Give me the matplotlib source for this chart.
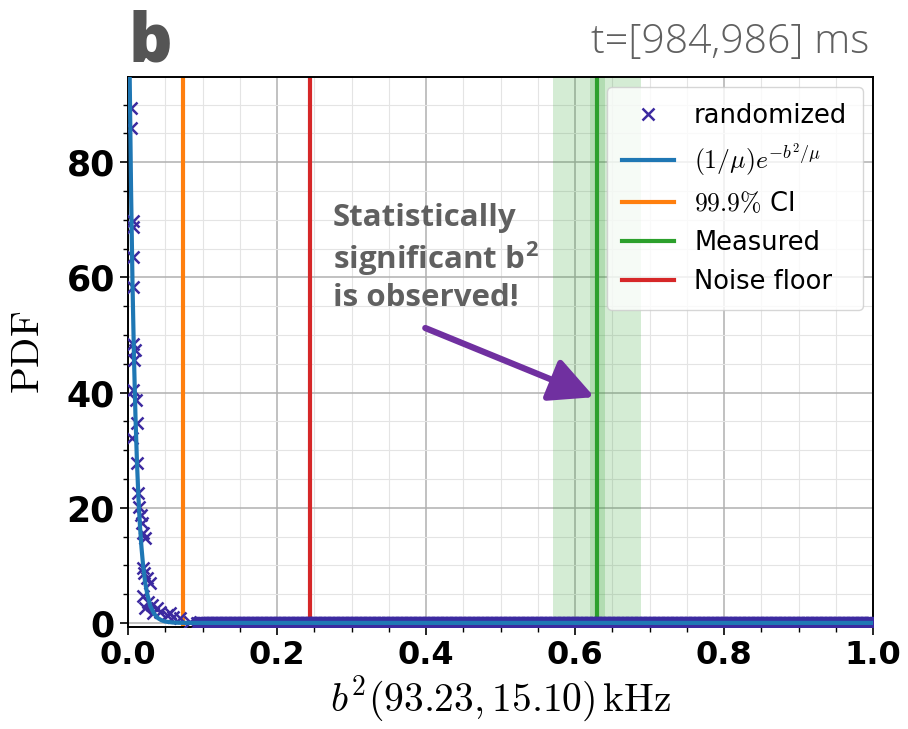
import numpy as np
import matplotlib
matplotlib.use('Agg')
import matplotlib.pyplot as plt
from matplotlib.ticker import MultipleLocator

matplotlib.rcParams['mathtext.fontset'] = 'cm'

# histogram of the randomized b^2 values
rand_b2 = [0.004, 0.0045, 0.0063, 0.0071, 0.0071, 0.0071, 0.0071, 0.0094,
           0.008, 0.0071, 0.0107, 0.0116, 0.005, 0.0125, 0.0139, 0.0152,
           0.017, 0.0183, 0.0206, 0.0228, 0.0197, 0.0215, 0.025, 0.0295,
           0.0206, 0.0273, 0.0318, 0.0385, 0.0228, 0.043, 0.034, 0.052,
           0.056, 0.061, 0.070, 0.083, 0.092]
rand_pdf = [89.4, 85.9, 69.7, 68.8, 63.6, 58.4, 48.4, 47.4,
            45.7, 40.5, 38.7, 34.7, 32.1, 27.8, 22.6, 20.1,
            18.8, 17.3, 15.6, 14.7, 9.5, 8.6, 7.8, 6.9,
            4.6, 3.7, 3.1, 2.55, 2.55, 1.96, 1.7, 1.4,
            1.7, 1.1, 0.8, 0.2, 0.0]
# empty bins of the same histogram out to b^2 = 1
tail_b2 = np.linspace(0.095, 1.0, 1200)
tail_pdf = np.zeros(len(tail_b2))

# fitted exponential, sampled from the drawn curve
fit_b2 = [0.0, 0.002, 0.004, 0.006, 0.008, 0.010, 0.012, 0.014, 0.016, 0.018,
          0.020, 0.023, 0.026, 0.030, 0.035, 0.040, 0.045, 0.050, 0.060,
          0.070, 0.085, 1.0]
fit_pdf = [125.0, 97.3, 75.8, 59.0, 46.0, 35.8, 27.9, 21.7, 16.9, 13.2,
           10.3, 7.0, 4.9, 2.9, 1.6, 0.84, 0.45, 0.24, 0.07,
           0.02, 0.0, 0.0]

ci_999 = 0.0735
noise_floor = 0.244
measured = 0.630
measured_band = (0.570, 0.688)
measured_inner = (0.620, 0.640)

marker_color = '#3c2aa0'

fig = plt.figure(figsize=(9.08, 7.29), dpi=100)
ax = fig.add_axes([0.141, 0.140, 0.8205, 0.7545])

ax.axvspan(*measured_band, color='C2', alpha=0.2, lw=0, zorder=1)
ax.axvspan(*measured_inner, color='C2', alpha=0.2, lw=0, zorder=1)

ax.plot(rand_b2, rand_pdf, 'x', color=marker_color, ms=9, mew=1.8,
        label='randomized', zorder=3)
ax.plot(tail_b2, tail_pdf, 'x', color=marker_color, ms=9, mew=1.8, zorder=3)
ax.plot(fit_b2, fit_pdf, color='C0', lw=3, zorder=4,
        label=r'$(1/\mu)e^{-b^2/\mu}$')
ax.axvline(ci_999, color='C1', lw=3, zorder=2, label=r'$99.9\%$ CI')
ax.axvline(measured, color='C2', lw=3, zorder=2, label='Measured')
ax.axvline(noise_floor, color='C3', lw=3, zorder=2, label='Noise floor')

ax.set_xlim(0, 1.0)
ax.set_ylim(-0.7, 94.8)
ax.xaxis.set_major_locator(MultipleLocator(0.2))
ax.xaxis.set_minor_locator(MultipleLocator(0.05))
ax.yaxis.set_major_locator(MultipleLocator(20))
ax.yaxis.set_minor_locator(MultipleLocator(5))
ax.grid(which='major', color='#b0b0b0', lw=1.1)
ax.grid(which='minor', color='#e4e4e4', lw=0.8)
ax.set_axisbelow(True)

for lab in ax.get_xticklabels():
    lab.set_fontweight('bold')
    lab.set_fontsize(23)
for lab in ax.get_yticklabels():
    lab.set_fontweight('bold')
    lab.set_fontsize(25)
ax.tick_params(which='major', length=6, width=1.2)
ax.tick_params(which='minor', length=3.5, width=1.0)
for sp in ax.spines.values():
    sp.set_linewidth(1.4)

ax.set_ylabel(r'$\mathrm{PDF}$', fontsize=28.5, labelpad=13)
ax.set_xlabel(r'$b^2(93.23, 15.10)\,\mathrm{kHz}$', fontsize=28.5, labelpad=2)

handles, labels = ax.get_legend_handles_labels()
ax.legend(handles, labels, loc='upper right', fontsize=18.5,
          handlelength=2.0, labelspacing=0.5,
          handletextpad=0.8, borderpad=0.6, borderaxespad=0.4)

ax.text(0.275, 72.9, 'Statistically\nsignificant b$^\\mathregular{2}$\nis observed!',
        fontsize=22.5, fontweight='bold', color='#606060', family='Open Sans',
        va='top', ha='left', linespacing=1.22, zorder=5)
ax.annotate('', xy=(0.626, 39.2), xytext=(0.399, 51.2),
            arrowprops=dict(arrowstyle='-|>,head_length=0.9,head_width=0.45',
                            color='#7030a0', lw=4.5,
                            mutation_scale=30, shrinkA=0, shrinkB=0),
            zorder=5)

fig.text(0.141, 0.915, 'b', fontsize=49, fontweight=800, color='#555555',
         family='Open Sans', ha='left', va='baseline')
fig.text(0.958, 0.927, 't=[984,986] ms', fontsize=29.5, color='#606060',
         family='Open Sans', fontweight='light', ha='right', va='baseline')

fig.savefig('out.png', dpi=100)
